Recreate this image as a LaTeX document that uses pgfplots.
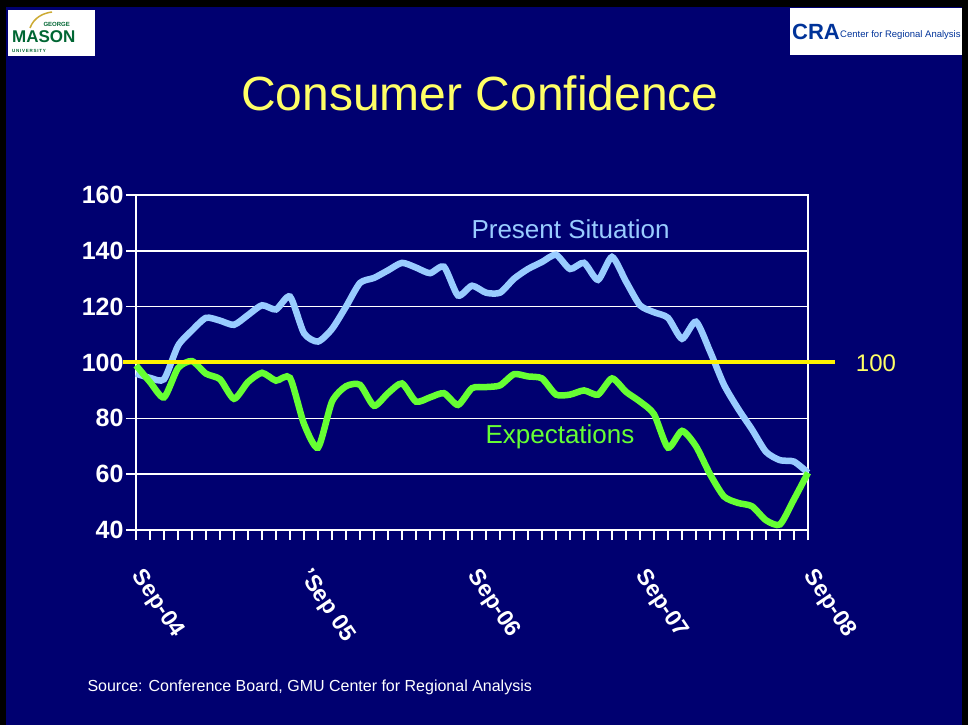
\documentclass[border=0pt]{standalone}
\usepackage{pgfplots}
\pgfplotsset{compat=1.18}
\usepackage{pgfplotstable}
\usepackage{fontspec}
\setmainfont{Liberation Sans}
\definecolor{navy}{RGB}{0,0,112}
\definecolor{psblue}{RGB}{153,204,255}
\definecolor{exgreen}{RGB}{102,255,51}
\definecolor{titleyel}{RGB}{255,255,102}
\definecolor{gmugreen}{RGB}{0,102,51}
\definecolor{gmugold}{RGB}{204,170,51}
\definecolor{crablue}{RGB}{0,51,153}

\pgfplotstableread{
m v
0 96
1 94.5
2 94
3 106
4 111.5
5 116
6 115
7 113.5
8 117
9 120.5
10 119
11 123.6
12 110.5
13 107.5
14 112
15 120
16 128.5
17 130.3
18 133
19 135.7
20 134
21 132
22 134.3
23 124
24 127.5
25 125
26 125
27 130
28 133.5
29 136
30 138.6
31 133.5
32 135.7
33 129.6
34 137.8
35 129
36 120.5
37 118
38 116
39 108.5
40 114.6
41 104
42 92
43 83.5
44 76
45 68
46 65
47 64.5
48 60.5
}\present

\pgfplotstableread{
m v
0 99
1 93
2 87.5
3 98
4 100.5
5 96
6 94
7 87
8 93
9 96.3
10 93.5
11 94.5
12 78
13 69.5
14 86
15 91.5
16 92
17 84.5
18 89
19 92.5
20 86
21 87.5
22 89
23 84.8
24 90.8
25 91.2
26 91.8
27 95.8
28 95
29 94.3
30 88.5
31 88.5
32 90
33 88.5
34 94.3
35 89.5
36 86
37 81.5
38 69.5
39 75.5
40 70
41 60
42 52
43 49.7
44 48.5
45 43.5
46 42
47 51
48 60.5
}\expect

\begin{document}
\begin{tikzpicture}[x=1pt,y=1pt]
% background and frame
\fill[navy] (0,0) rectangle (968,725);
\fill[black] (0,0) rectangle (6,725);
\fill[black] (962,0) rectangle (968,725);
\fill[black] (0,718) rectangle (968,725);

% logos (as text)
\fill[white] (8,669) rectangle (95,715);
\node[text=gmugreen, font=\bfseries\fontsize{6}{6}\selectfont, anchor=west] at (40,701) {GEORGE};
\node[text=gmugreen, font=\bfseries\fontsize{17}{17}\selectfont, anchor=west, inner sep=0pt] at (12,688) {MASON};
\node[text=gmugreen, font=\bfseries\fontsize{4.5}{5}\selectfont, anchor=west, inner sep=0pt] at (12,674) {U\,N\,I\,V\,E\,R\,S\,I\,T\,Y};
\draw[gmugold, line width=1.5pt] (30,697) .. controls (34,708) and (44,712) .. (52,713);
\fill[white] (790,670) rectangle (962,717);
\node[text=crablue, font=\bfseries\fontsize{22}{22}\selectfont, anchor=west, inner sep=0pt] at (792,693) {CRA};
\node[text=crablue, font=\fontsize{9.5}{10}\selectfont, anchor=west, inner sep=0pt] at (840,690) {Center for Regional Analysis};

% title
\node[text=titleyel, font=\fontsize{48}{56}\selectfont] at (480,632) {Consumer Confidence};

\begin{axis}[
  at={(136pt,195pt)}, anchor=south west,
  scale only axis, width=672pt, height=335pt,
  xmin=0, xmax=48, ymin=40, ymax=160,
  clip=false,
  axis line style={white, line width=1.8pt},
  xtick={0,12,24,36,48},
  xticklabels={Sep-04,'Sep 05,Sep-06,Sep-07,Sep-08},
  minor xtick={0,...,48},
  ytick={40,60,...,160},
  tick pos=left,
  tick align=outside,
  major tick length=10pt,
  minor tick length=10pt,
  tick style={white, line width=1.5pt},
  ymajorgrids,
  major grid style={white, line width=1.5pt},
  /pgf/number format/assume math mode=true,
  yticklabel style={text=white, font=\bfseries\fontsize{25}{25}\selectfont, xshift=1pt},
  xticklabel style={text=white, font=\bfseries\fontsize{23}{23}\selectfont, xshift=10pt, yshift=-22pt, rotate=-56, anchor=north west},
]
\addplot[psblue, line width=6.5pt, smooth, tension=0.4] table[x=m,y=v] {\present};
\addplot[exgreen, line width=6.5pt, smooth, tension=0.4] table[x=m,y=v] {\expect};
\addplot[yellow, line width=4pt] coordinates {(-0.93,100) (49.93,100)};
\end{axis}

\node[text=titleyel, font=\fontsize{24}{28}\selectfont] at (876,362) {100};
\node[text=psblue, font=\fontsize{26}{30}\selectfont, anchor=west] at (468,496) {Present Situation};
\node[text=exgreen, font=\fontsize{26}{30}\selectfont, anchor=west] at (482,288) {Expectations};
\node[text=white, font=\fontsize{16}{19}\selectfont, anchor=west] at (84,38) {Source: Conference Board, GMU Center for Regional Analysis};
\end{tikzpicture}
\end{document}
